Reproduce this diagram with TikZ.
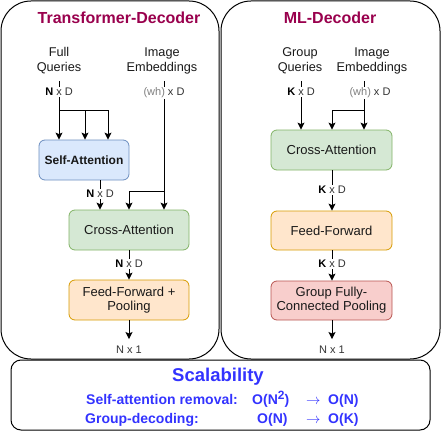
\documentclass[tikz,border=0pt]{standalone}
\usepackage{fontspec}
\setmainfont{Liberation Sans}
\usetikzlibrary{arrows.meta}
\definecolor{titlec}{HTML}{99004D}
\definecolor{scal}{HTML}{3333FF}
\definecolor{bluef}{HTML}{DAE8FC}\definecolor{blued}{HTML}{6C8EBF}
\definecolor{greenf}{HTML}{D5E8D4}\definecolor{greend}{HTML}{82B366}
\definecolor{orangef}{HTML}{FFE6CC}\definecolor{oranged}{HTML}{D79B00}
\definecolor{redf}{HTML}{F8CECC}\definecolor{redd}{HTML}{B85450}
\definecolor{labc}{HTML}{333333}
\definecolor{whc}{HTML}{808080}
\begin{document}
\begin{tikzpicture}[x=1pt,y=-1pt,
 panel/.style={draw, line width=1pt, rounded corners=30pt, inner sep=0},
 box/.style={draw, line width=0.8pt, rounded corners=6pt, minimum height=40pt, align=center, font=\fontsize{13}{14}\selectfont, inner sep=0, text=black!90},
 inlabel/.style={align=center, font=\fontsize{12.7}{15}\selectfont, inner sep=0, text=black!90},
 dimlab/.style={fill=white, inner sep=1pt, font=\fontsize{11}{12}\selectfont, text=labc},
 outlab/.style={inner sep=0, font=\fontsize{11}{12}\selectfont, text=labc},
 titlelab/.style={font=\fontsize{16}{18}\selectfont\bfseries, text=titlec, inner sep=0},
 scaltxt/.style={font=\fontsize{14}{16}\selectfont\bfseries, text=scal, inner sep=0, anchor=base west},
 arr/.style={-{Stealth[length=7pt,width=7pt,inset=1.5pt]}, line width=1pt},
 ln/.style={line width=1pt}]
\useasboundingbox (0,0) rectangle (441,441);

% panels
\node[panel, minimum width=218pt, minimum height=358pt] (lp) at (110,180) {};
\node[panel, minimum width=219pt, minimum height=358pt] (rp) at (330.5,180) {};
\node[draw, line width=1pt, rounded corners=10pt, minimum width=419pt, minimum height=70pt, inner sep=0] (sbox) at (220.5,395) {};

% titles
\node[titlelab] (t1) at (119,18) {Transformer-Decoder};
\node[titlelab] (t2) at (330,18) {ML-Decoder};

% ---------- left panel ----------
\node[inlabel] (fq) at (59,61) {Full\\Queries};
\node[inlabel] (ie1) at (162,61) {Image\\Embeddings};
\node[box, fill=bluef, draw=blued, minimum width=90pt, font=\fontsize{12}{14}\selectfont\bfseries] (sa) at (84,160) {Self-Attention};
\node[box, fill=greenf, draw=greend, minimum width=120pt] (ca1) at (129,230) {Cross-Attention};
\node[box, fill=orangef, draw=oranged, minimum width=120pt] (ff1) at (129,300) {Feed-Forward +\\Pooling};
\node[outlab] (out1) at (129,350) {N x 1};

\coordinate (fqs) at (59,81);
\coordinate (fqj) at (59,110);
\coordinate (j2) at (85,110);
\coordinate (j3) at (108,110);
\draw[arr] (fqs) -- (fqs |- sa.north);
\draw[ln] (fqj) -- (j3);
\draw[arr] (j2) -- (j2 |- sa.north);
\draw[arr] (j3) -- (j3 |- sa.north);
\coordinate (sao) at (100,0);
\draw[arr] (sa.south -| sao) -- (sao |- ca1.north);
\coordinate (ies1) at (164,81);
\coordinate (iej1) at (164,191);
\draw[arr] (ies1) -- (ies1 |- ca1.north);
\draw[arr] (iej1) -| (ca1.north);
\draw[arr] (ca1) -- (ff1);
\draw[arr] (ff1.south) -- ([yshift=7pt]out1.north);

\node[dimlab] (l1) at (59,92) {{\color{black}\bfseries N} x D};
\node[dimlab] (l2) at (164,93) {{\color{whc}(wh)} x D};
\node[dimlab] (l3) at (100,194) {{\color{black}\bfseries N} x D};
\node[dimlab] (l4) at (129,264) {{\color{black}\bfseries N} x D};

% ---------- right panel ----------
\node[inlabel] (gq) at (300,61) {Group\\Queries};
\node[inlabel] (ie2) at (372,61) {Image\\Embeddings};
\node[box, fill=greenf, draw=greend, minimum width=121pt] (ca2) at (331.5,150) {Cross-Attention};
\node[box, fill=orangef, draw=oranged, minimum width=121pt, minimum height=39pt] (ff2) at (331.5,230.5) {Feed-Forward};
\node[box, fill=redf, draw=redd, minimum width=121pt, minimum height=39pt] (gfc) at (331.5,300.5) {Group Fully-\\Connected Pooling};
\node[outlab] (out2) at (332,350) {N x 1};

\coordinate (gqs) at (301,81);
\coordinate (ies2) at (364,81);
\coordinate (iej2) at (364,110);
\coordinate (cx2) at (332,0);
\draw[arr] (gqs) -- (gqs |- ca2.north);
\draw[arr] (ies2) -- (ies2 |- ca2.north);
\draw[arr] (iej2) -| (cx2 |- ca2.north);
\draw[arr] (ca2.south -| cx2) -- (cx2 |- ff2.north);
\draw[arr] (ff2.south -| cx2) -- (cx2 |- gfc.north);
\draw[arr] (gfc.south -| cx2) -- ([yshift=7pt]out2.north);

\node[dimlab] (l5) at (301,92) {{\color{black}\bfseries K} x D};
\node[dimlab] (l6) at (370,93) {{\color{whc}(wh)} x D};
\node[dimlab] (l7) at (332,190) {{\color{black}\bfseries K} x D};
\node[dimlab] (l8) at (332,264) {{\color{black}\bfseries K} x D};

% ---------- scalability ----------
\node[font=\fontsize{18.5}{20}\selectfont\bfseries, text=scal, inner sep=0, anchor=base] (sc) at (218,381) {Scalability};
\node[scaltxt] (r1a) at (86,404) {Self-attention removal:};
\node[scaltxt] (r1b) at (252,404) {O(N\raisebox{5pt}{\fontsize{12}{12}\selectfont 2})};
\node[scaltxt] (r1c) at (306,404) {$\rightarrow$};
\node[scaltxt] (r1d) at (328,404) {O(N)};
\node[scaltxt] (r2a) at (85,423) {Group-decoding:};
\node[scaltxt] (r2b) at (257,423) {O(N)};
\node[scaltxt] (r2c) at (306,423) {$\rightarrow$};
\node[scaltxt] (r2d) at (328,423) {O(K)};
\end{tikzpicture}
\end{document}
